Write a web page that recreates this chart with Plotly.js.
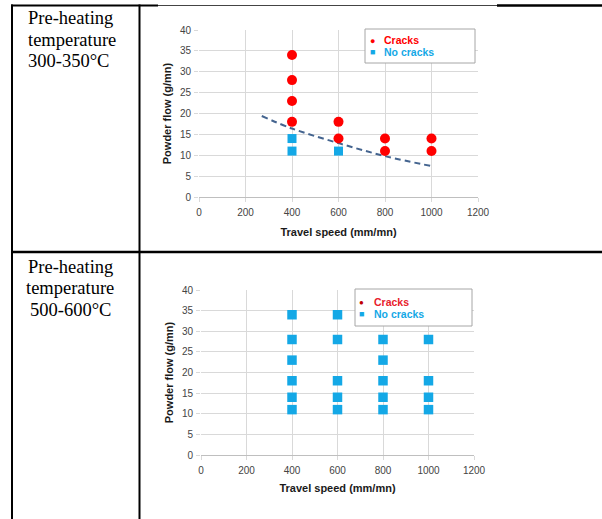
<!DOCTYPE html>
<html>
<head>
<meta charset="utf-8">
<script src="https://cdn.plot.ly/plotly-3.0.1.min.js"></script>
<style>html,body{margin:0;padding:0;background:#fff;}#chart{width:602px;height:519px;}</style>
</head>
<body>
<div id="chart"></div>
<script>
// ---------- data ----------
const rowLabels1 = ['Pre-heating', 'temperature', '300-350°C'];
const rowLabels2 = ['Pre-heating', 'temperature', '500-600°C'];
const legendNames = ['Cracks', 'No cracks'];
const xTitle = 'Travel speed (mm/mn)';
const yTitle = 'Powder flow (g/mn)';

// 300-350 °C
const cracks1Speed = [400, 400, 400, 400, 600, 600, 800, 800, 1000, 1000];
const cracks1Flow  = [34, 28, 23, 18, 18, 14, 14, 11, 14, 11];
const noCracks1Speed = [400, 400, 600];
const noCracks1Flow  = [14, 11, 11];
const limitSpeed = [270, 400, 600, 800, 1000];
const limitFlow  = [19.4, 16.4, 12.9, 9.8, 7.4];

// 500-600 °C
const cracks2Speed = [];
const cracks2Flow  = [];
const noCracks2Speed = [400, 400, 400, 400, 400, 400, 600, 600, 600, 600, 600, 800, 800, 800, 800, 800, 1000, 1000, 1000, 1000];
const noCracks2Flow  = [34, 28, 23, 18, 14, 11, 34, 28, 18, 14, 11, 28, 23, 18, 14, 11, 28, 18, 14, 11];

// ---------- styling ----------
const W = 602, H = 519;
const px = x => x / W;
const py = y => 1 - y / H;
const RED = '#ff0000';
const BLUE = '#14a8e6';
const GRID = '#d9d9d9';
const TICKC = '#444444';
const SANS = 'Liberation Sans, Arial, sans-serif';
const SERIF = 'Liberation Serif, Times New Roman, serif';

function xAxis(d0, d1, anchor, standoff) {
  return {
    domain: [px(d0), px(d1)], anchor: anchor, range: [0, 1200], dtick: 200, tick0: 0,
    showgrid: true, gridcolor: GRID, gridwidth: 1, zeroline: false,
    showline: true, linecolor: '#bfbfbf', linewidth: 1,
    ticks: 'outside', ticklen: 4, tickcolor: GRID, ticklabelstandoff: 2,
    tickfont: {family: SANS, size: 10, color: TICKC},
    automargin: false, fixedrange: true,
    title: {text: xTitle, font: {family: SANS, size: 11, color: '#1a1a1a', weight: 'bold'}, standoff: standoff}
  };
}
function yAxis(d0, d1, anchor) {
  return {
    domain: [py(d1), py(d0)], anchor: anchor, range: [0, 40], dtick: 5, tick0: 0,
    showgrid: true, gridcolor: GRID, gridwidth: 1, zeroline: false,
    showline: false,
    ticks: 'outside', ticklen: 4, tickcolor: GRID, ticklabelstandoff: 1,
    tickfont: {family: SANS, size: 10, color: TICKC},
    automargin: false, fixedrange: true,
    title: {text: yTitle, font: {family: SANS, size: 11, color: '#1a1a1a', weight: 'bold'}, standoff: 6}
  };
}

const traces = [
  {x: limitSpeed, y: limitFlow, xaxis: 'x', yaxis: 'y', type: 'scatter', mode: 'lines',
   line: {color: '#44648f', width: 2, dash: '6px,4px', shape: 'spline'}, showlegend: false, hoverinfo: 'skip'},
  {x: cracks1Speed, y: cracks1Flow, xaxis: 'x', yaxis: 'y', type: 'scatter', mode: 'markers', name: legendNames[0],
   marker: {symbol: 'circle', size: 10, color: RED}, showlegend: false},
  {x: noCracks1Speed, y: noCracks1Flow, xaxis: 'x', yaxis: 'y', type: 'scatter', mode: 'markers', name: legendNames[1],
   marker: {symbol: 'square', size: 9, color: BLUE}, showlegend: false},
  {x: cracks2Speed, y: cracks2Flow, xaxis: 'x2', yaxis: 'y2', type: 'scatter', mode: 'markers', name: legendNames[0],
   marker: {symbol: 'circle', size: 10, color: RED}, showlegend: false},
  {x: noCracks2Speed, y: noCracks2Flow, xaxis: 'x2', yaxis: 'y2', type: 'scatter', mode: 'markers', name: legendNames[1],
   marker: {symbol: 'square', size: 9.5, color: BLUE}, showlegend: false}
];

// table borders
function hline(y, x0, x1, w, c) {
  return {type: 'line', xref: 'paper', yref: 'paper', x0: px(x0), x1: px(x1), y0: py(y), y1: py(y),
          line: {color: c || '#000', width: w}, layer: 'above'};
}
function vline(x, y0, y1, w) {
  return {type: 'line', xref: 'paper', yref: 'paper', x0: px(x), x1: px(x), y0: py(y0), y1: py(y1),
          line: {color: '#000', width: w}, layer: 'above'};
}
function box(x0, y0, x1, y1) {
  return {type: 'rect', xref: 'paper', yref: 'paper', x0: px(x0), x1: px(x1), y0: py(y1), y1: py(y0),
          line: {color: '#a6a6a6', width: 1}, fillcolor: '#ffffff', layer: 'above'};
}
const shapes = [
  hline(5.5, 11, 158, 2),
  hline(5.5, 158, 497, 1, '#444'),
  hline(5.5, 497, 602, 2.5),
  hline(252, 11, 602, 2.5),
  vline(12, 4.5, 519, 2),
  vline(139.5, 4.5, 519, 2),
  box(365, 29, 475, 63),
  box(355, 289, 472, 326)
];

function txt(text, x, y, opts) {
  return Object.assign({text: text, xref: 'paper', yref: 'paper', x: px(x), y: py(y),
    showarrow: false, xanchor: 'left', yanchor: 'middle'}, opts);
}
const cellFont = {family: SERIF, size: 18.5, color: '#000'};
const legFont = c => ({family: SANS, size: 10.5, color: c, weight: 'bold'});
const annotations = [
  txt(rowLabels1[0], 26, 18.5, {font: cellFont}),
  txt(rowLabels1[1], 26, 40, {font: cellFont}),
  txt(rowLabels1[2], 26, 61.5, {font: cellFont}),
  txt(rowLabels2[0], 70, 266.5, {font: cellFont, xanchor: 'center'}),
  txt(rowLabels2[1], 70, 288, {font: cellFont, xanchor: 'center'}),
  txt(rowLabels2[2], 70, 309.5, {font: cellFont, xanchor: 'center'}),
  // legend 1
  txt('●', 372, 40.5, {font: {family: SANS, size: 9, color: RED}, xanchor: 'center'}),
  txt('■', 372, 52, {font: {family: SANS, size: 9, color: BLUE}, xanchor: 'center'}),
  txt(legendNames[0], 382, 40, {font: legFont(RED)}),
  txt(legendNames[1], 382, 52, {font: legFont(BLUE)}),
  // legend 2
  txt('●', 361, 302.5, {font: {family: SANS, size: 8, color: '#c00000'}, xanchor: 'center'}),
  txt('■', 361, 314, {font: {family: SANS, size: 9, color: BLUE}, xanchor: 'center'}),
  txt(legendNames[0], 372, 302, {font: legFont('#e8202a')}),
  txt(legendNames[1], 372, 314, {font: legFont(BLUE)})
];

const layout = {
  width: W, height: H,
  margin: {l: 0, r: 0, t: 0, b: 0, pad: 0},
  paper_bgcolor: '#ffffff', plot_bgcolor: '#ffffff',
  showlegend: false,
  xaxis: xAxis(199, 478, 'y', 11),
  yaxis: yAxis(30, 197, 'x'),
  xaxis2: xAxis(201, 474, 'y2', 9),
  yaxis2: yAxis(290, 455, 'x2'),
  shapes: shapes,
  annotations: annotations,
  font: {family: SANS}
};

Plotly.newPlot('chart', traces, layout, {staticPlot: true, displayModeBar: false});
</script>
</body>
</html>
